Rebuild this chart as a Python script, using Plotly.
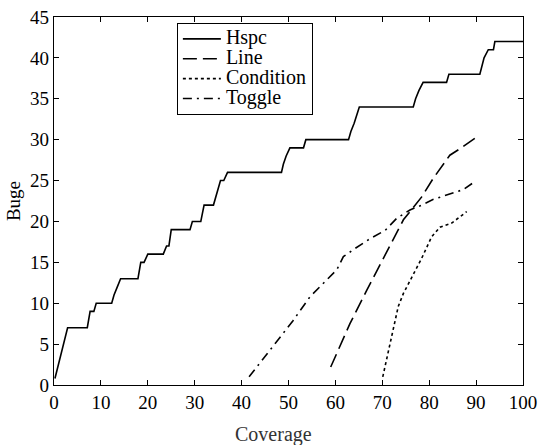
import plotly.graph_objects as go

hspc_x = [0.2, 2.9, 7.1, 7.7, 8.5, 9.0, 12.3, 12.8, 13.5, 14.2, 17.9, 18.5, 19.2, 20.0, 23.3, 24.0, 24.5, 25.0,
          29.0, 29.5, 31.3, 32.0, 34.0, 35.0, 35.5, 36.2, 37.0, 48.5, 48.9, 49.5, 50.3, 53.2, 53.7,
          62.8, 63.3, 64.0, 64.6, 65.1, 76.6, 77.1, 77.8, 78.7, 83.7, 84.2, 90.8, 91.2, 91.7, 92.6, 93.7, 94.0, 100.0]
hspc_y = [0.8, 7, 7, 9, 9, 10, 10, 11, 12, 13, 13, 15, 15, 16, 16, 17, 17, 19,
          19, 20, 20, 22, 22, 24, 25, 25, 26, 26, 27, 28, 29, 29, 30,
          30, 31, 32, 33, 34, 34, 35, 36, 37, 37, 38, 38, 39, 40, 41, 41, 42, 42]

line_x = [59.0, 63.1, 66.7, 70.2, 74.5, 78.4, 80.9, 84.4, 86.6, 89.8]
line_y = [2.2, 7.5, 11.6, 15.5, 20.2, 23.0, 25.3, 28.1, 28.9, 30.2]

cond_x = [70.1, 72.0, 73.4, 74.5, 76.3, 78.4, 80.5, 82.3, 84.8, 88.0]
cond_y = [1.0, 5.9, 9.6, 11.2, 13.2, 15.5, 18.1, 19.3, 19.8, 21.2]

tog_x = [41.6, 46.8, 51.0, 54.6, 57.8, 60.3, 61.0, 61.7, 64.2, 67.4, 70.6, 73.1, 75.9, 78.4, 80.9, 84.4, 87.3, 89.8]
tog_y = [1.0, 4.9, 7.9, 10.8, 12.6, 14.1, 14.9, 15.7, 16.7, 17.9, 18.9, 20.4, 21.4, 22.0, 22.7, 23.4, 23.9, 24.9]

series_names = ["Hspc", "Line", "Condition", "Toggle"]
x_ticks = list(range(0, 101, 10))
y_ticks = list(range(0, 46, 5))

FONT = "Liberation Serif, Times New Roman, serif"


def big(name):
    return '<span style="font-size:20px">' + name + '</span>'


fig = go.Figure()
fig.add_trace(go.Scatter(x=hspc_x, y=hspc_y, mode="lines", name=big(series_names[0]),
                         line=dict(color="black", width=1.6, dash="solid")))
fig.add_trace(go.Scatter(x=line_x, y=line_y, mode="lines", name=big(series_names[1]),
                         line=dict(color="black", width=1.6, dash="14px,6px")))
fig.add_trace(go.Scatter(x=cond_x, y=cond_y, mode="lines", name=big(series_names[2]),
                         line=dict(color="black", width=1.6, dash="3px,3px")))
fig.add_trace(go.Scatter(x=tog_x, y=tog_y, mode="lines", name=big(series_names[3]),
                         line=dict(color="black", width=1.6, dash="9px,5px,2px,5px")))

axis_common = dict(showline=True, linecolor="black", linewidth=1.4, mirror="ticks",
                   ticks="inside", ticklen=5, tickcolor="black", tickwidth=1.2,
                   showgrid=False, zeroline=False, automargin=False,
                   tickfont=dict(family=FONT, size=19, color="black"))

fig.update_layout(
    width=540, height=445,
    margin=dict(l=54, r=17, t=17, b=60),
    paper_bgcolor="white", plot_bgcolor="white",
    font=dict(family=FONT, color="black"),
    xaxis=dict(range=[0, 100], tickvals=x_ticks, **axis_common),
    yaxis=dict(range=[0, 45], tickvals=y_ticks,
               title=dict(text="Buge", font=dict(family=FONT, size=19, color="black"), standoff=4),
               **axis_common),
    legend=dict(x=0.262, y=0.984, xanchor="left", yanchor="top",
                bordercolor="black", borderwidth=1, bgcolor="white",
                font=dict(family=FONT, size=13, color="black"),
                tracegroupgap=0, itemwidth=38),
    showlegend=True,
    annotations=[dict(text="Coverage", xref="paper", yref="paper", x=0.469, y=-0.135,
                      xanchor="center", yanchor="middle", showarrow=False,
                      font=dict(family=FONT, size=20, color="#333"))],
)

fig.write_html("out.html", config={"displayModeBar": False},
               post_script="document.body.style.margin='0';document.body.style.padding='0';")
